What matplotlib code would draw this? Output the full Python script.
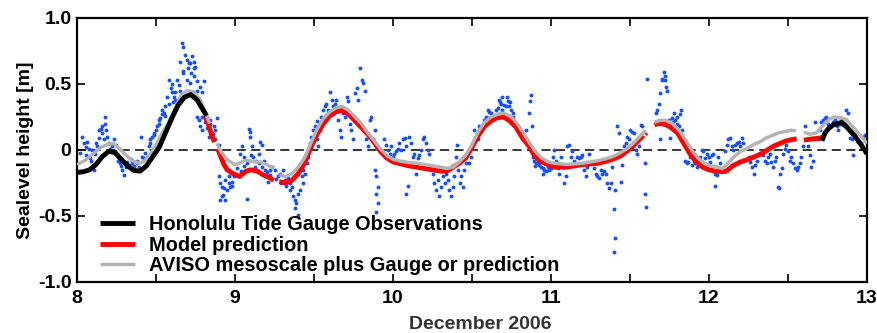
import numpy as np
import matplotlib
matplotlib.use("Agg")
import matplotlib.pyplot as plt
from matplotlib.ticker import MultipleLocator

nan = np.nan

# ---------------- curves ----------------
# Honolulu tide gauge observations (two pieces)
obs_x = [8.00, 8.04, 8.08, 8.12, 8.16, 8.20, 8.24, 8.28, 8.32, 8.36, 8.40, 8.44, 8.48,
         8.52, 8.56, 8.60, 8.64, 8.68, 8.72, 8.76, 8.80, 8.82, nan,
         12.715, 12.735, 12.755, 12.785, 12.815, 12.84, 12.86, 12.89, 12.92, 12.95, 12.985, 13.0]
obs_y = [-0.17, -0.165, -0.15, -0.11, -0.05, -0.01, -0.02, -0.07, -0.12, -0.155, -0.16, -0.12, -0.05,
         0.02, 0.13, 0.24, 0.34, 0.40, 0.42, 0.38, 0.30, 0.26, nan,
         0.07, 0.13, 0.16, 0.19, 0.20, 0.21, 0.19, 0.15, 0.11, 0.06, 0.00, -0.03]

# Model prediction
model_x = [8.81, 8.83, 8.85, 8.87, nan, 8.89, 8.91, 8.93, 8.95, 8.99, 9.03, 9.07, 9.10, 9.14, 9.18, 9.22, 9.245, nan,
           9.28, 9.32, 9.36, 9.40, 9.44, 9.48, 9.52, 9.56, 9.60, 9.64, 9.68, 9.72, 9.76, 9.80, 9.84, 9.88,
           9.92, 9.96, 10.00, 10.05, 10.10, 10.15, 10.20, 10.25, 10.30, 10.34, 10.38, 10.42, 10.46, 10.50,
           10.54, 10.58, 10.62, 10.66, 10.70, 10.74, 10.78, 10.82, 10.86, 10.90, 10.94, 10.98, 11.02, 11.06,
           11.10, 11.15, 11.20, 11.25, 11.30, 11.35, 11.40, 11.44, 11.48, 11.52, 11.56, 11.585, nan,
           11.595, 11.605, nan,
           11.655, 11.68, 11.72, 11.76, 11.80, 11.84, 11.88, 11.92, 11.96, 12.00, 12.04, 12.08, 12.11,
           12.15, 12.20, 12.25, 12.29, 12.33, 12.37, 12.41, 12.45, 12.49, 12.53, 12.555, nan,
           12.60, 12.63, 12.66, 12.70, 12.72]
model_y = [0.26, 0.20, 0.12, 0.06, nan, 0.01, -0.05, -0.11, -0.15, -0.18, -0.20, -0.16, -0.15, -0.16, -0.19, -0.21, -0.23, nan,
           -0.24, -0.25, -0.23, -0.18, -0.10, 0.02, 0.12, 0.20, 0.26, 0.29, 0.30, 0.27, 0.22, 0.17, 0.12, 0.06,
           -0.01, -0.06, -0.09, -0.105, -0.12, -0.13, -0.14, -0.15, -0.16, -0.16, -0.13, -0.10, -0.06, 0.02,
           0.11, 0.18, 0.22, 0.245, 0.25, 0.22, 0.17, 0.09, 0.03, -0.05, -0.09, -0.11, -0.13, -0.13,
           -0.13, -0.12, -0.11, -0.105, -0.10, -0.085, -0.065, -0.045, -0.01, 0.03, 0.08, 0.11, nan,
           0.12, 0.13, nan,
           0.19, 0.20, 0.195, 0.17, 0.13, 0.05, -0.03, -0.09, -0.13, -0.15, -0.16, -0.165, -0.16,
           -0.12, -0.09, -0.07, -0.05, -0.03, 0.00, 0.03, 0.05, 0.07, 0.08, 0.085, nan,
           0.075, 0.08, 0.085, 0.09, 0.095]

# AVISO mesoscale plus gauge or prediction
aviso_x = [8.00, 8.05, 8.10, 8.15, 8.20, 8.23, 8.27, 8.31, 8.35, 8.39, 8.42, 8.46, 8.50, 8.54, 8.58,
           8.62, 8.66, 8.70, 8.74, 8.78, 8.81, 8.84, nan,
           8.885, 8.91, 8.94, 8.97, 9.00, 9.03, 9.06, 9.09, 9.12, 9.16, 9.20, 9.245, nan,
           9.28, 9.32, 9.36, 9.40, 9.44, 9.48, 9.52, 9.56, 9.60, 9.64, 9.68, 9.72, 9.76, 9.80, 9.84, 9.88,
           9.92, 9.96, 10.00, 10.05, 10.10, 10.15, 10.20, 10.25, 10.30, 10.34, 10.38, 10.42, 10.46, 10.50,
           10.54, 10.58, 10.62, 10.66, 10.70, 10.74, 10.78, 10.82, 10.86, 10.90, 10.94, 10.98, 11.02, 11.06,
           11.10, 11.15, 11.20, 11.25, 11.30, 11.35, 11.40, 11.44, 11.48, 11.52, 11.56, 11.60, nan,
           11.655, 11.69, 11.73, 11.77, 11.81, 11.85, 11.89, 11.93, 11.97, 12.01, 12.05, 12.085, 12.12,
           12.16, 12.20, 12.24, 12.28, 12.32, 12.36, 12.40, 12.44, 12.48, 12.52, 12.55, nan,
           12.60, 12.64, 12.68, 12.71, 12.74, 12.77, 12.80, 12.84, 12.87, 12.90, 12.93, 12.965, 13.0]
aviso_y = [-0.11, -0.08, -0.03, 0.02, 0.045, 0.05, 0.01, -0.04, -0.08, -0.10, -0.09, -0.04, 0.04, 0.13, 0.21,
           0.31, 0.42, 0.45, 0.44, 0.38, 0.29, 0.20, nan,
           0.05, -0.01, -0.06, -0.09, -0.11, -0.10, -0.08, -0.08, -0.09, -0.09, -0.11, -0.14, nan,
           -0.19, -0.20, -0.18, -0.13, -0.06, 0.05, 0.16, 0.24, 0.29, 0.32, 0.33, 0.30, 0.25, 0.20, 0.13, 0.07,
           0.01, -0.04, -0.07, -0.085, -0.095, -0.10, -0.11, -0.12, -0.13, -0.14, -0.13, -0.09, -0.04, 0.04,
           0.14, 0.21, 0.25, 0.27, 0.28, 0.26, 0.21, 0.14, 0.06, -0.01, -0.06, -0.09, -0.10, -0.105,
           -0.11, -0.105, -0.10, -0.09, -0.08, -0.065, -0.045, -0.02, 0.01, 0.05, 0.10, 0.15, nan,
           0.21, 0.225, 0.225, 0.20, 0.15, 0.08, 0.00, -0.06, -0.10, -0.12, -0.13, -0.14, -0.10,
           -0.05, -0.01, 0.01, 0.04, 0.06, 0.09, 0.11, 0.13, 0.14, 0.15, 0.145, nan,
           0.135, 0.12, 0.13, 0.17, 0.21, 0.24, 0.25, 0.24, 0.23, 0.19, 0.15, 0.10, 0.05]

# ---------------- scattered sea level points (blue dots) ----------------
pts_day8a = [(8.033, 0.10), (8.043, 0.05), (8.064, 0.06), (8.075, 0.01), (8.054, -0.04), (8.085, -0.06),
             (8.096, 0.00), (8.107, -0.15), (8.138, 0.15), (8.149, 0.16), (8.159, 0.13), (8.170, 0.08),
             (8.180, 0.25), (8.176, 0.20), (8.185, 0.15), (8.191, 0.10), (8.128, 0.03), (8.117, -0.03),
             (8.201, 0.05), (8.212, 0.01), (8.233, 0.08), (8.244, 0.04), (8.254, -0.03), (8.265, -0.06),
             (8.275, -0.10), (8.286, -0.15), (8.296, -0.19), (8.307, -0.13), (8.318, -0.09), (8.328, -0.11),
             (8.349, -0.10), (8.370, -0.15), (8.381, -0.10), (8.391, -0.13), (8.402, 0.10), (8.412, -0.05),
             (8.423, -0.06), (8.444, -0.05), (8.455, 0.03), (8.465, 0.08), (8.476, 0.10), (8.486, 0.11),
             (8.497, 0.15), (8.507, 0.18), (8.518, 0.23), (8.528, 0.24), (8.539, 0.27), (8.550, 0.28),
             (8.560, 0.33), (8.571, 0.40), (8.581, 0.53), (8.592, 0.47), (8.602, 0.44), (8.613, 0.40),
             (8.623, 0.38), (8.02, -0.02), (8.06, 0.02), (8.09, -0.08), (8.12, 0.05), (8.14, 0.09),
             (8.16, 0.18), (8.22, 0.03), (8.24, -0.01), (8.26, -0.08), (8.28, -0.12), (8.30, -0.09),
             (8.34, -0.07), (8.36, -0.12), (8.38, -0.08), (8.40, -0.15), (8.43, -0.02), (8.46, 0.05),
             (8.49, 0.13), (8.52, 0.20), (8.54, 0.30), (8.56, 0.26), (8.58, 0.35), (8.60, 0.50), (8.61, 0.36)]
pts_day8b = [(8.664, 0.81), (8.674, 0.78), (8.685, 0.72), (8.695, 0.68), (8.706, 0.66), (8.727, 0.71),
             (8.738, 0.67), (8.748, 0.63), (8.716, 0.66), (8.653, 0.67), (8.632, 0.53), (8.643, 0.49),
             (8.653, 0.45), (8.674, 0.58), (8.695, 0.53), (8.716, 0.51), (8.738, 0.56), (8.759, 0.52),
             (8.780, 0.48), (8.790, 0.44), (8.801, 0.52), (8.622, 0.44), (8.643, 0.38), (8.759, 0.25),
             (8.769, 0.23), (8.780, 0.18), (8.790, 0.15), (8.811, 0.21), (8.822, 0.25), (8.843, 0.20),
             (8.864, 0.18), (8.875, 0.15), (8.885, 0.24), (8.833, 0.10), (8.854, 0.13), (8.875, 0.08),
             (8.896, 0.04), (8.896, -0.20), (8.906, -0.25), (8.917, -0.28), (8.938, -0.23), (8.949, -0.30),
             (8.959, -0.25), (8.970, -0.28), (8.927, -0.34), (8.938, -0.38), (8.980, -0.24), (8.991, -0.20),
             (8.902, -0.38), (8.917, -0.35), (9.033, -0.03), (9.043, 0.03), (9.054, -0.05), (9.075, -0.10),
             (9.086, 0.16), (9.092, 0.14), (9.096, 0.10), (9.107, 0.03), (9.117, -0.05), (9.128, -0.13),
             (9.138, -0.15), (9.149, -0.03), (9.160, 0.06), (9.170, 0.04), (9.181, -0.08), (9.191, -0.15),
             (9.202, -0.20), (9.212, -0.24), (9.223, -0.15), (9.233, -0.13), (9.075, -0.37), (9.001, -0.18),
             (9.012, -0.14), (9.022, -0.20), (8.67, 0.60), (8.70, 0.62), (8.72, 0.58), (8.74, 0.62),
             (8.76, 0.45), (8.79, 0.25), (8.82, 0.17), (8.84, 0.23), (8.86, 0.12), (8.93, -0.29),
             (8.96, -0.20), (8.98, -0.27), (9.04, -0.16), (9.06, -0.12), (9.10, -0.04), (9.13, -0.08),
             (9.15, -0.10), (9.17, -0.13), (9.20, -0.17), (9.22, -0.19)]
pts_day9 = [(9.252, -0.15), (9.273, -0.20), (9.284, -0.18), (9.305, -0.15), (9.315, -0.23), (9.336, -0.21),
            (9.347, -0.25), (9.358, -0.28), (9.368, -0.35), (9.379, -0.38), (9.389, -0.40), (9.400, -0.33),
            (9.410, -0.30), (9.396, -0.49), (9.421, -0.20), (9.431, -0.15), (9.442, -0.18), (9.453, -0.10),
            (9.463, 0.00), (9.474, 0.05), (9.484, 0.10), (9.495, 0.15), (9.505, 0.18), (9.516, 0.08),
            (9.526, 0.03), (9.537, 0.15), (9.547, 0.25), (9.558, 0.30), (9.569, 0.33), (9.579, 0.35),
            (9.590, 0.30), (9.600, 0.44), (9.611, 0.38), (9.621, 0.33), (9.632, 0.35), (9.642, 0.38),
            (9.653, 0.23), (9.663, 0.15), (9.674, 0.10), (9.685, 0.28), (9.695, 0.25), (9.706, 0.40),
            (9.716, 0.37), (9.727, 0.20), (9.737, 0.15), (9.748, 0.08), (9.758, 0.43), (9.769, 0.47),
            (9.780, 0.38), (9.790, 0.62), (9.801, 0.53), (9.811, 0.51), (9.822, 0.45), (9.832, 0.08),
            (9.843, 0.03), (9.853, 0.23), (9.52, 0.22), (9.55, 0.20), (9.58, 0.27), (9.62, 0.27),
            (9.66, 0.32), (9.70, 0.30), (9.46, -0.05), (9.48, 0.02), (9.26, -0.22), (9.29, -0.25),
            (9.32, -0.27), (9.35, -0.30), (9.38, -0.44), (9.43, -0.25)]
pts_day10a = [(9.862, 0.25), (9.883, 0.15), (9.872, 0.08), (9.893, 0.03), (9.883, -0.15), (9.893, -0.20),
              (9.904, -0.28), (9.893, -0.33), (9.904, -0.40), (9.893, -0.47), (9.946, 0.08), (9.956, 0.04),
              (9.967, 0.00), (9.978, -0.03), (9.988, 0.03), (9.999, -0.05), (10.009, -0.03), (10.020, -0.01),
              (10.030, 0.01), (10.041, 0.05), (10.051, 0.00), (10.062, 0.08), (10.073, 0.09), (10.083, 0.03),
              (10.094, -0.27), (10.083, -0.33), (10.104, 0.10), (10.115, 0.05), (10.125, -0.05), (10.136, -0.03),
              (10.146, -0.18), (10.157, -0.06), (10.167, -0.04), (10.178, 0.00), (10.189, 0.08), (10.199, 0.10),
              (10.210, 0.05), (10.220, 0.00), (10.231, -0.03), (10.241, -0.13), (10.252, -0.18), (10.262, -0.25),
              (10.273, -0.30), (10.283, -0.23), (10.294, -0.35), (10.305, -0.28), (10.315, -0.20), (10.326, -0.25),
              (10.336, -0.18), (10.347, -0.23), (10.357, -0.30), (10.368, -0.35), (10.378, -0.28), (10.389, -0.20),
              (10.400, -0.05), (10.404, 0.04), (10.410, -0.15), (10.421, -0.25), (10.431, -0.20), (10.442, -0.28),
              (10.452, -0.15), (10.463, -0.10)]
pts_day10b = [(10.483, -0.10), (10.493, -0.05), (10.504, 0.05), (10.514, 0.15), (10.525, 0.10), (10.535, 0.08),
              (10.546, 0.18), (10.556, 0.15), (10.567, 0.20), (10.577, 0.23), (10.588, 0.25), (10.599, 0.30),
              (10.609, 0.29), (10.620, 0.23), (10.641, 0.25), (10.662, 0.32), (10.672, 0.38), (10.683, 0.35),
              (10.693, 0.30), (10.704, 0.34), (10.715, 0.33), (10.725, 0.37), (10.736, 0.33), (10.746, 0.30),
              (10.757, 0.25), (10.767, 0.20), (10.778, 0.18), (10.788, 0.15), (10.810, 0.13), (10.820, 0.10),
              (10.831, 0.08), (10.841, 0.15), (10.862, 0.28), (10.873, 0.42), (10.869, 0.37), (10.877, 0.18),
              (10.883, -0.05), (10.894, -0.08), (10.904, -0.10), (10.915, -0.09), (10.926, -0.11), (10.936, -0.13),
              (10.947, -0.14), (10.957, -0.15), (10.968, -0.16), (10.978, -0.13), (10.989, -0.15), (10.999, -0.10),
              (11.010, -0.05), (11.021, 0.00), (11.031, -0.08), (11.042, -0.14), (11.052, -0.18), (11.063, -0.05),
              (11.073, -0.13), (11.084, -0.25), (11.094, -0.20), (10.62, 0.28), (10.65, 0.30), (10.69, 0.40),
              (10.72, 0.40), (10.60, 0.24), (10.68, 0.36), (10.74, 0.36), (10.76, 0.28), (10.90, -0.12),
              (10.95, -0.18), (11.00, -0.14)]
pts_day11a = [(11.103, 0.03), (11.113, 0.04), (11.124, -0.05), (11.134, -0.01), (11.145, -0.08), (11.155, -0.10),
              (11.166, -0.05), (11.176, -0.06), (11.187, -0.05), (11.197, -0.04), (11.208, -0.15), (11.219, -0.20),
              (11.229, -0.13), (11.240, -0.03), (11.250, -0.10), (11.261, -0.09), (11.271, -0.14), (11.282, -0.18),
              (11.292, -0.20), (11.303, -0.21), (11.314, -0.15), (11.324, -0.18), (11.335, -0.16), (11.345, -0.18),
              (11.356, -0.25), (11.366, -0.29), (11.377, -0.25), (11.387, -0.13), (11.398, -0.45), (11.404, -0.67),
              (11.398, -0.77), (11.408, -0.30), (11.419, 0.18), (11.430, 0.13), (11.440, -0.24), (11.451, -0.11),
              (11.461, 0.03), (11.472, 0.05), (11.482, 0.10), (11.493, 0.08), (11.503, 0.15), (11.514, 0.14),
              (11.524, 0.13), (11.535, 0.00), (11.546, -0.03), (11.556, 0.03), (11.567, 0.19), (11.577, 0.18),
              (11.598, -0.33), (11.603, -0.43), (11.609, 0.54), (11.598, -0.10), (11.662, 0.28), (11.672, 0.30),
              (11.683, 0.35), (11.693, 0.43), (11.704, 0.54), (11.714, 0.59), (11.704, 0.53), (11.693, 0.08)]
pts_day11b = [(11.723, 0.53), (11.729, 0.48), (11.733, 0.45), (11.723, 0.56), (11.744, 0.23), (11.754, 0.20),
              (11.765, 0.24), (11.775, 0.21), (11.786, 0.23), (11.796, 0.20), (11.807, 0.18), (11.817, 0.27),
              (11.828, 0.15), (11.807, 0.13), (11.754, 0.09), (11.849, -0.08), (11.860, -0.10), (11.870, -0.09),
              (11.881, -0.05), (11.891, -0.11), (11.902, -0.08), (11.912, -0.10), (11.923, -0.13), (11.934, -0.09),
              (11.944, -0.05), (11.955, 0.00), (11.965, -0.01), (11.976, -0.06), (11.986, -0.03), (11.997, -0.05),
              (12.007, -0.09), (12.018, -0.04), (12.028, -0.03), (12.039, -0.18), (12.039, -0.27), (12.050, -0.19),
              (12.060, -0.05), (12.071, -0.10), (12.102, -0.01), (12.113, 0.04), (12.123, 0.08), (12.134, 0.09),
              (12.144, 0.03), (12.155, 0.00), (12.166, 0.04), (12.176, 0.05), (12.187, 0.06), (12.197, 0.03),
              (12.208, 0.09), (12.218, 0.05), (12.250, -0.05), (12.261, -0.09), (12.271, -0.13), (12.282, -0.18),
              (12.292, -0.11), (12.303, -0.08), (12.313, -0.03), (11.80, 0.25), (11.82, 0.30), (11.78, 0.28)]
pts_day12 = [(12.343, -0.04), (12.353, -0.08), (12.364, -0.10), (12.374, -0.05), (12.385, -0.03), (12.395, -0.09),
             (12.406, -0.13), (12.416, -0.08), (12.427, -0.05), (12.437, -0.28), (12.442, -0.29), (12.448, -0.18),
             (12.459, -0.14), (12.469, -0.03), (12.480, 0.01), (12.490, 0.04), (12.501, -0.01), (12.511, -0.08),
             (12.522, -0.05), (12.532, -0.10), (12.543, -0.14), (12.554, -0.15), (12.564, -0.13), (12.575, -0.10),
             (12.585, -0.05), (12.596, 0.03), (12.606, 0.18), (12.627, 0.03), (12.638, -0.04), (12.648, -0.13),
             (12.659, -0.08), (12.670, 0.21), (12.691, 0.08), (12.701, 0.15), (12.712, 0.21), (12.722, 0.23),
             (12.733, 0.24), (12.743, 0.25), (12.754, 0.20), (12.775, 0.18), (12.786, 0.21), (12.796, 0.23),
             (12.807, 0.18), (12.817, 0.15), (12.828, 0.20), (12.838, 0.24), (12.849, 0.19), (12.859, 0.18),
             (12.870, 0.30), (12.881, 0.28), (12.891, 0.09), (12.902, 0.08), (12.912, -0.04), (12.923, 0.11),
             (12.944, 0.06), (12.965, 0.05), (12.975, 0.10), (12.986, 0.11)]

xtick_vals = [8, 9, 10, 11, 12, 13]
xtick_labels = ["8", "9", "10", "11", "12", "13"]
ytick_vals = [-1.0, -0.5, 0.0, 0.5, 1.0]
ytick_labels = ["-1.0", "-0.5", "0", "0.5", "1.0"]

# ---------------- figure ----------------
plt.rcParams['font.family'] = ['Liberation Sans', 'DejaVu Sans']
plt.rcParams['font.weight'] = 'bold'

fig = plt.figure(figsize=(8.78, 3.33), dpi=100)
ax = fig.add_axes([77 / 878, 1 - 282 / 333, 790 / 878, 264 / 333])

all_pts = pts_day8a + pts_day8b + pts_day9 + pts_day10a + pts_day10b + pts_day11a + pts_day11b + pts_day12
px = [p[0] for p in all_pts]
py = [p[1] for p in all_pts]
ax.plot(px, py, linestyle='none', marker='o', ms=2.8, mew=0, color='#1450ff', zorder=2)

ax.axhline(0, color='black', lw=1.1, dashes=(6, 3.5), zorder=1)

ax.plot(model_x, model_y, color='#ff0000', lw=3.5, solid_capstyle='butt', zorder=3,
        label='Model prediction')
ax.plot(aviso_x, aviso_y, color='#b4b4b4', lw=2.5, solid_capstyle='butt', zorder=4,
        label='AVISO mesoscale plus Gauge or prediction')
ax.plot(obs_x, obs_y, color='black', lw=3.5, solid_capstyle='butt', zorder=5,
        label='Honolulu Tide Gauge Observations')

ax.set_xlim(8, 13)
ax.set_ylim(-1, 1)
ax.set_xticks(xtick_vals)
ax.set_xticklabels(xtick_labels)
ax.xaxis.set_minor_locator(MultipleLocator(0.5))
ax.set_yticks(ytick_vals)
ax.set_yticklabels(ytick_labels)

ax.tick_params(axis='both', which='both', direction='in', top=True, right=True,
               length=6, width=1.2, labelsize=14)
ax.tick_params(axis='x', which='major', pad=6)
ax.tick_params(axis='y', which='major', pad=4)
for s in ax.spines.values():
    s.set_linewidth(1.6)

ax.set_ylabel('Sealevel height [m]', fontsize=14, fontweight='bold', labelpad=3)
ax.set_xlabel('December 2006', fontsize=14, fontweight='bold', color='#333333')
ax.xaxis.set_label_coords(0.51, -0.128)

h, l = ax.get_legend_handles_labels()
order = [2, 0, 1]
leg = ax.legend([h[i] for i in order], [l[i] for i in order], loc='upper left',
                bbox_to_anchor=(0.029, 0.252), frameon=False, fontsize=14.4,
                handlelength=1.75, handletextpad=0.68, labelspacing=0.06,
                borderpad=0, borderaxespad=0)
for t in leg.get_texts():
    t.set_fontweight('bold')

fig.savefig('out.png', dpi=100)
